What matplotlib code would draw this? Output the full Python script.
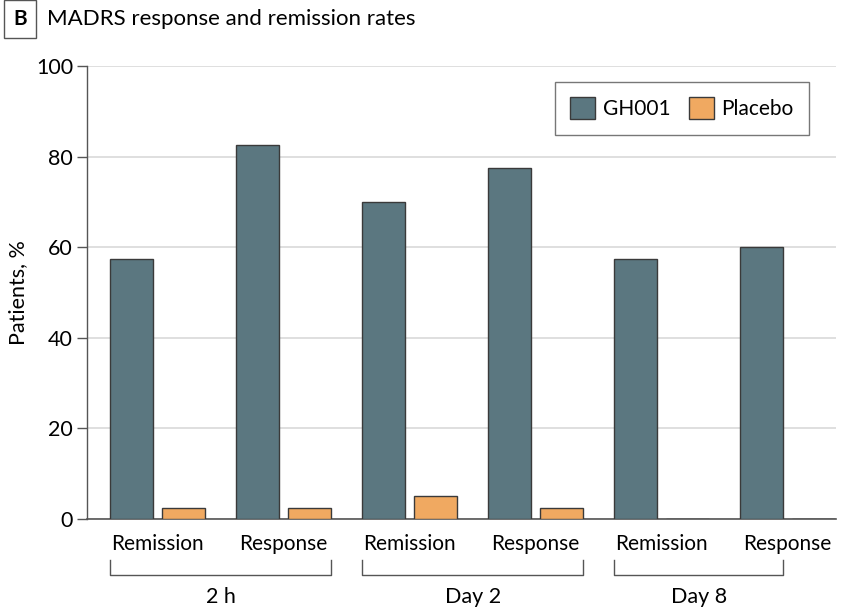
import matplotlib
matplotlib.use('Agg')
import matplotlib.pyplot as plt
from matplotlib.patches import Patch
from matplotlib.transforms import blended_transform_factory

plt.rcParams['font.family'] = ['Lato', 'DejaVu Sans']

# Data
categories = ['Remission', 'Response', 'Remission', 'Response', 'Remission', 'Response']
groups = ['2 h', 'Day 2', 'Day 8']
gh001 = [57.5, 82.5, 70.0, 77.5, 57.5, 60.0]
placebo = [2.5, 2.5, 5.0, 2.5, 0.0, 0.0]

teal = '#5b7780'
orange = '#f0a961'
edge = '#3a3a3a'

fig = plt.figure(figsize=(8.48, 6.11), dpi=100)
ax = fig.add_axes([0.1026, 0.1506, 0.8834, 0.7414])

x = list(range(len(categories)))
w = 0.341
off = 0.206
ax.bar([i - off for i in x], gh001, width=w, color=teal, edgecolor=edge, linewidth=1, zorder=3)
ax.bar([i + off for i in x], placebo, width=w, color=orange, edgecolor=edge, linewidth=1, zorder=3)

ax.set_xlim(-0.56, 5.385)
ax.set_ylim(0, 100)
ax.set_yticks([0, 20, 40, 60, 80, 100])
ax.tick_params(axis='y', labelsize=15.5, length=7, width=1, color='#555555', pad=3)
ax.set_xticks([])
ax.yaxis.grid(True, color='#d9d9d9', linewidth=1.2, zorder=0)
for s in ['top', 'right']:
    ax.spines[s].set_visible(False)
ax.spines['left'].set_color('#555555')
ax.spines['bottom'].set_color('#555555')
ax.spines['left'].set_linewidth(1)
ax.spines['bottom'].set_linewidth(1.2)
ax.set_ylabel('Patients, %', fontsize=15.5, labelpad=6)

# category labels and group brackets below the axis
trans = blended_transform_factory(ax.transData, fig.transFigure)
for i, c in enumerate(categories):
    ax.text(i, 1 - 544 / 611, c, transform=trans, ha='center', va='center', fontsize=15)

y_top = 1 - 560 / 611
y_bot = 1 - 575 / 611
for g, name in enumerate(groups):
    last = 2 * g + 1
    x0 = 2 * g - off - w / 2
    # bracket stops at the last bar that is actually visible
    if placebo[last] > 0:
        x1 = last + off + w / 2
    else:
        x1 = last - off + w / 2
    ax.plot([x0, x0, x1, x1], [y_top, y_bot, y_bot, y_top], transform=trans,
            color='#555555', linewidth=1, clip_on=False)
    ax.text((x0 + x1) / 2, 1 - 597 / 611, name, transform=trans, ha='center', va='center', fontsize=15.5)

# legend
handles = [Patch(facecolor=teal, edgecolor=edge, label='GH001'),
           Patch(facecolor=orange, edgecolor=edge, label='Placebo')]
leg = ax.legend(handles=handles, loc='upper right', bbox_to_anchor=(0.964, 0.965), ncol=2,
                fontsize=15, frameon=True, fancybox=False, handlelength=1.2, handleheight=1.2,
                borderpad=0.75, borderaxespad=0, columnspacing=0.9, handletextpad=0.35)
leg.get_frame().set_edgecolor('#555555')
leg.get_frame().set_linewidth(1)

# panel title
fig.text(20 / 848, 1 - 19 / 611, 'B', ha='center', va='center', fontsize=15, fontweight='bold',
         bbox=dict(boxstyle='square,pad=0.45', facecolor='white', edgecolor='#555555', linewidth=1))
fig.text(47 / 848, 1 - 19 / 611, 'MADRS response and remission rates', ha='left', va='center', fontsize=16)

fig.savefig('out.png', dpi=100)
